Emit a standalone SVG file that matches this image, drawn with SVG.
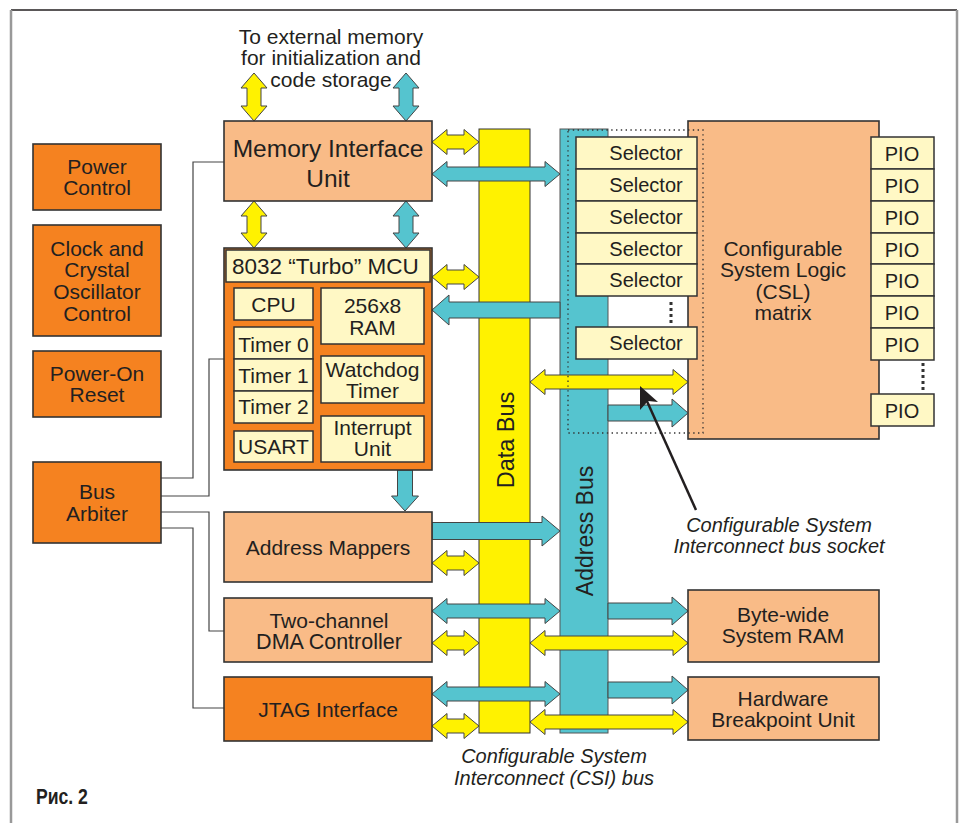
<svg xmlns="http://www.w3.org/2000/svg" width="960" height="825" viewBox="0 0 960 825">
  <style>
    .lo { fill: #F9BB87; stroke: #333; stroke-width: 1.6; }
    .or { fill: #F58220; stroke: #333; stroke-width: 1.6; }
    .ly { fill: #FFF8C5; stroke: #333; stroke-width: 1.5; }
    .ya { fill: #FFF200; stroke: #444; stroke-width: 1; stroke-linejoin: miter; }
    .ta { fill: #55C4CF; stroke: #444; stroke-width: 1; stroke-linejoin: miter; }
    .wire { fill: none; stroke: #444; stroke-width: 1.2; }
    .dots { fill: none; stroke: #333; stroke-width: 3; stroke-dasharray: 3 3; }
    .socket { fill: none; stroke: #333; stroke-width: 1.3; stroke-dasharray: 1.4 3.4; }
    text { font-family: "Liberation Sans", Arial, sans-serif; font-size: 21px; fill: #231F20; }
    .s20 { font-size: 20px; }
    .c { text-anchor: middle; }
    .it { font-style: italic; font-size: 20px; }
  </style>

  <!-- page frame -->
  <g id="frame">
    <line x1="11" y1="10" x2="957" y2="10" stroke="#231F20" stroke-width="1.5"/>
    <line x1="11" y1="10" x2="11" y2="823" stroke="#999" stroke-width="2.5"/>
    <line x1="957" y1="10" x2="957" y2="823" stroke="#999" stroke-width="2.5"/>
  </g>

  <!-- buses -->
  <g id="data-bus">
    <rect x="479" y="129" width="51" height="604" fill="#FFF200" stroke="#333" stroke-width="1"/>
    <text transform="translate(505,440) rotate(-90)" x="0" y="8.5" class="c" style="font-size:23.5px">Data Bus</text>
  </g>
  <g id="address-bus">
    <rect x="560" y="129" width="48" height="604" fill="#55C4CF" stroke="#555" stroke-width="1"/>
    <text transform="translate(584,531) rotate(-90)" x="0" y="8.5" class="c" style="font-size:23px">Address Bus</text>
  </g>

  <g id="csl-matrix">
    <rect class="lo" x="688" y="121" width="191" height="318"/>
    <text class="c" x="783" y="256">Configurable</text>
    <text class="c" x="783" y="277">System Logic</text>
    <text class="c" x="783" y="299">(CSL)</text>
    <text class="c" x="783" y="320">matrix</text>
  </g>

  <!-- connectors -->
  <g id="connectors">
    <!-- external memory -->
    <polygon class="ya" points="254,73 267,88 261,88 261,106 267,106 254,121 241,106 247,106 247,88 241,88"/>
    <polygon class="ta" points="406,73 419,88 413,88 413,106 419,106 406,121 393,106 399,106 399,88 393,88"/>
    <!-- memory interface to MCU -->
    <polygon class="ya" points="254,201 267,216 261,216 261,233 267,233 254,248 241,233 247,233 247,216 241,216"/>
    <polygon class="ta" points="406,201 419,216 413,216 413,233 419,233 406,248 393,233 399,233 399,216 393,216"/>
    <!-- memory interface to buses -->
    <polygon class="ya" points="432,142 447,129.5 447,135 464,135 464,129.5 479,142 464,154.5 464,149 447,149 447,154.5"/>
    <polygon class="ta" points="432,174 447,161.5 447,167 545,167 545,161.5 560,174 545,186.5 545,181 447,181 447,186.5"/>
    <!-- MCU to buses -->
    <polygon class="ya" points="432,277 447,264.5 447,270 464,270 464,264.5 479,277 464,289.5 464,284 447,284 447,289.5"/>
    <polygon class="ta" points="432,310 449,295 449,302 560,302 560,318 449,318 449,325"/>
    <!-- socket -->
    <polygon class="ya" points="530,382 545,369.5 545,375 673,375 673,369.5 688,382 673,394.5 673,389 545,389 545,394.5"/>
    <polygon class="ta" points="608,405 672,405 672,399 688,413 672,427 672,421 608,421"/>
    <!-- MCU to address mappers -->
    <polygon class="ta" points="397.5,470 412.5,470 412.5,496 418.5,496 405,511 391.5,496 397.5,496"/>
    <!-- address mappers -->
    <polygon class="ta" points="432,522.5 542,522.5 542,516 560,531 542,546 542,539.5 432,539.5"/>
    <polygon class="ya" points="432,563 447,550.5 447,556 464,556 464,550.5 479,563 464,575.5 464,570 447,570 447,575.5"/>
    <!-- DMA -->
    <polygon class="ta" points="432,611 447,598.5 447,604 545,604 545,598.5 560,611 545,623.5 545,618 447,618 447,623.5"/>
    <polygon class="ya" points="432,643 447,630.5 447,636 464,636 464,630.5 479,643 464,655.5 464,650 447,650 447,655.5"/>
    <!-- JTAG -->
    <polygon class="ta" points="432,694 447,681.5 447,687 545,687 545,681.5 560,694 545,706.5 545,701 447,701 447,706.5"/>
    <polygon class="ya" points="432,726 447,713.5 447,719 464,719 464,713.5 479,726 464,738.5 464,733 447,733 447,738.5"/>
    <!-- system RAM -->
    <polygon class="ta" points="608,603 672,603 672,597 688,611 672,625 672,619 608,619"/>
    <polygon class="ya" points="530,643 545,630.5 545,636 673,636 673,630.5 688,643 673,655.5 673,650 545,650 545,655.5"/>
    <!-- breakpoint unit -->
    <polygon class="ta" points="608,682 672,682 672,676 688,690 672,704 672,698 608,698"/>
    <polygon class="ya" points="530,722 545,709.5 545,715 673,715 673,709.5 688,722 673,734.5 673,729 545,729 545,734.5"/>
    <!-- bus arbiter control lines -->
    <path class="wire" d="M161,478 H193 V162 H224"/>
    <path class="wire" d="M161,496 H209 V359 H224"/>
    <path class="wire" d="M161,512 H209 V631 H224"/>
    <path class="wire" d="M161,528 H193 V708 H224"/>
  </g>

  <!-- selectors -->
  <g id="selectors">
    <rect class="ly" x="576" y="137" width="121" height="32"/>
    <rect class="ly" x="576" y="169" width="121" height="32"/>
    <rect class="ly" x="576" y="201" width="121" height="32"/>
    <rect class="ly" x="576" y="233" width="121" height="31"/>
    <rect class="ly" x="576" y="264" width="121" height="32"/>
    <rect class="ly" x="576" y="327" width="121" height="32"/>
    <text class="c s20" x="646" y="160">Selector</text>
    <text class="c s20" x="646" y="192">Selector</text>
    <text class="c s20" x="646" y="224">Selector</text>
    <text class="c s20" x="646" y="256">Selector</text>
    <text class="c s20" x="646" y="287">Selector</text>
    <text class="c s20" x="646" y="350">Selector</text>
    <line class="dots" x1="671" y1="302" x2="671" y2="324"/>
  </g>

  <!-- PIO column -->
  <g id="pio">
    <rect class="ly" x="871" y="137" width="63" height="32"/>
    <rect class="ly" x="871" y="169" width="63" height="32"/>
    <rect class="ly" x="871" y="201" width="63" height="32"/>
    <rect class="ly" x="871" y="233" width="63" height="31"/>
    <rect class="ly" x="871" y="264" width="63" height="32"/>
    <rect class="ly" x="871" y="296" width="63" height="32"/>
    <rect class="ly" x="871" y="328" width="63" height="32"/>
    <rect class="ly" x="871" y="394" width="63" height="32"/>
    <text class="c s20" x="902" y="161">PIO</text>
    <text class="c s20" x="902" y="193">PIO</text>
    <text class="c s20" x="902" y="225">PIO</text>
    <text class="c s20" x="902" y="257">PIO</text>
    <text class="c s20" x="902" y="288">PIO</text>
    <text class="c s20" x="902" y="320">PIO</text>
    <text class="c s20" x="902" y="352">PIO</text>
    <text class="c s20" x="902" y="418">PIO</text>
    <line class="dots" x1="923" y1="363" x2="923" y2="392"/>
  </g>

  <!-- bus socket outline -->
  <g id="csi-socket">
    <rect class="socket" x="568" y="130" width="135" height="303"/>
  </g>

  <g id="memory-interface">
    <rect class="lo" x="224" y="121" width="208" height="80"/>
    <text class="c" x="328" y="157" style="font-size:24.5px">Memory Interface</text>
    <text class="c" x="328" y="187" style="font-size:24.5px">Unit</text>
  </g>

  <g id="mcu">
    <rect class="or" x="224" y="248" width="208" height="222"/>
    <rect class="ly" x="226" y="250" width="204" height="32"/>
    <text x="232" y="274" style="font-size:22.5px">8032 “Turbo” MCU</text>
    <rect class="ly" x="234" y="288" width="79" height="32"/>
    <text class="c" x="273.5" y="312">CPU</text>
    <rect class="ly" x="321" y="288" width="103" height="56"/>
    <text class="c" x="372.5" y="313">256x8</text>
    <text class="c" x="372.5" y="335">RAM</text>
    <rect class="ly" x="234" y="327" width="79" height="32"/>
    <rect class="ly" x="234" y="359" width="79" height="32"/>
    <rect class="ly" x="234" y="391" width="79" height="32"/>
    <text class="c" x="273.5" y="352">Timer 0</text>
    <text class="c" x="273.5" y="383">Timer 1</text>
    <text class="c" x="273.5" y="414">Timer 2</text>
    <rect class="ly" x="321" y="356" width="103" height="47"/>
    <text class="c" x="372.5" y="377">Watchdog</text>
    <text class="c" x="372.5" y="398">Timer</text>
    <rect class="ly" x="234" y="431" width="79" height="31"/>
    <text class="c" x="273.5" y="454">USART</text>
    <rect class="ly" x="321" y="416" width="103" height="46"/>
    <text class="c" x="372.5" y="435">Interrupt</text>
    <text class="c" x="372.5" y="456">Unit</text>
  </g>

  <g id="power-control">
    <rect class="or" x="33" y="144" width="128" height="66"/>
    <text class="c" x="97" y="174">Power</text>
    <text class="c" x="97" y="195">Control</text>
  </g>
  <g id="clock">
    <rect class="or" x="33" y="225" width="128" height="111"/>
    <text class="c" x="97" y="256">Clock and</text>
    <text class="c" x="97" y="277">Crystal</text>
    <text class="c" x="97" y="299">Oscillator</text>
    <text class="c" x="97" y="321">Control</text>
  </g>
  <g id="power-on-reset">
    <rect class="or" x="33" y="351" width="128" height="66"/>
    <text class="c" x="97" y="381">Power-On</text>
    <text class="c" x="97" y="402">Reset</text>
  </g>
  <g id="bus-arbiter">
    <rect class="or" x="33" y="462" width="128" height="81"/>
    <text class="c" x="97" y="499">Bus</text>
    <text class="c" x="97" y="521">Arbiter</text>
  </g>

  <g id="address-mappers">
    <rect class="lo" x="224" y="512" width="208" height="70"/>
    <text class="c" x="328" y="555">Address Mappers</text>
  </g>
  <g id="dma">
    <rect class="lo" x="224" y="598" width="208" height="64"/>
    <text class="c" x="329" y="628">Two-channel</text>
    <text class="c" x="329" y="649" style="font-size:21.5px">DMA Controller</text>
  </g>
  <g id="jtag">
    <rect class="or" x="224" y="677" width="208" height="64"/>
    <text class="c" x="328" y="717">JTAG Interface</text>
  </g>

  <g id="system-ram">
    <rect class="lo" x="688" y="590" width="191" height="72"/>
    <text class="c" x="783" y="622">Byte-wide</text>
    <text class="c" x="783" y="643">System RAM</text>
  </g>
  <g id="breakpoint-unit">
    <rect class="lo" x="688" y="677" width="191" height="63"/>
    <text class="c" x="783" y="706">Hardware</text>
    <text class="c" x="783" y="727">Breakpoint Unit</text>
  </g>

  <!-- labels -->
  <g id="external-memory-label">
    <text class="c" x="331" y="44">To external memory</text>
    <text class="c" x="331" y="65">for initialization and</text>
    <text class="c" x="331" y="87">code storage</text>
  </g>

  <g id="socket-callout">
    <line x1="696" y1="510" x2="646" y2="399" stroke="#231F20" stroke-width="2.5"/>
    <polygon points="640,386 658,402 648,401 640,410" fill="#231F20"/>
    <text class="c it" x="779" y="532">Configurable System</text>
    <text class="c it" x="779" y="553">Interconnect bus socket</text>
  </g>

  <g id="csi-bus-label">
    <text class="c it" x="554" y="763">Configurable System</text>
    <text class="c it" x="554" y="785">Interconnect (CSI) bus</text>
  </g>

  <text transform="translate(36,804) scale(0.8,1)" x="0" y="0" style="font-size:22px;font-weight:bold">Рис. 2</text>
</svg>
